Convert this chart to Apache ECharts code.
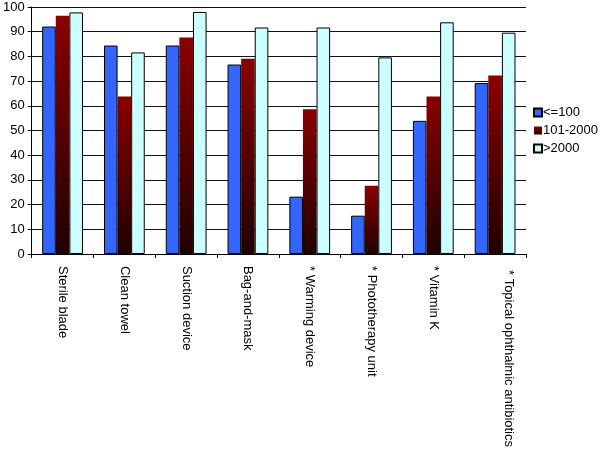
<!DOCTYPE html>
<html>
<head>
<meta charset="utf-8">
<script src="https://cdn.jsdelivr.net/npm/echarts@6/dist/echarts.min.js"></script>
<style>
  html, body { margin: 0; padding: 0; background: #fff; }
  #chart { width: 600px; height: 450px; }
</style>
</head>
<body>
<div id="chart"></div>
<script>
const categories = [
  'Sterile blade', 'Clean towel', 'Suction device', 'Bag-and-mask',
  '* Warming device', '* Phototherapy unit', '* Vitamin K', '* Topical ophthalmic antibiotics'
]
const seriesNames = ['<=100', '101-2000', '>2000']
const small = [92.1, 84.4, 84.4, 76.7, 23.2, 15.5, 53.9, 69.2]
const medium = [96.5, 63.8, 87.7, 79.0, 58.6, 27.6, 63.8, 72.3]
const large = [97.8, 81.6, 98.0, 91.7, 91.7, 79.6, 93.8, 89.6]
const yTicks = [0, 10, 20, 30, 40, 50, 60, 70, 80, 90, 100]

const chart = echarts.init(document.getElementById('chart'))

const redFill = new echarts.graphic.LinearGradient(0, 0, 0, 1, [
  { offset: 0, color: '#8a0000' },
  { offset: 1, color: '#200000' },
])

const last = categories[categories.length - 1]
// the last label sits a bit off-centre in the original
const xData = categories.map((name) =>
  name === last ? { value: name, textStyle: { padding: [0, 0, 0, 4] } } : name
)

chart.setOption({
  animation: false,
  textStyle: { fontFamily: 'Liberation Sans, Arial, sans-serif' },
  grid: { left: 29, right: 74, top: 7, bottom: 196, containLabel: false },
  legend: {
    orient: 'vertical',
    left: 533,
    top: 106,
    padding: 0,
    itemWidth: 8,
    itemHeight: 8,
    itemGap: 5,
    icon: 'rect',
    textStyle: { fontSize: 13, color: '#000', padding: [0, 0, 0, -4] },
    data: seriesNames,
  },
  xAxis: {
    type: 'category',
    data: xData,
    axisLine: { lineStyle: { color: '#000', width: 1 } },
    axisTick: { show: true, length: 4, inside: false, lineStyle: { color: '#000' } },
    axisLabel: {
      rotate: -90,
      fontSize: 13,
      color: '#000',
      margin: 12,
      interval: 0,
      formatter(val) {
        return val === last ? val + '\n\n' : val
      },
    },
    splitLine: { show: false },
  },
  yAxis: {
    type: 'value',
    min: yTicks[0],
    max: yTicks[yTicks.length - 1],
    interval: 10,
    axisLine: { show: true, lineStyle: { color: '#000', width: 1 } },
    axisTick: { show: true, length: 4, lineStyle: { color: '#000' } },
    axisLabel: { fontSize: 13, color: '#000', margin: 7 },
    splitLine: { show: true, lineStyle: { color: '#111', width: 1 } },
  },
  series: [
    {
      name: seriesNames[0],
      type: 'bar',
      data: small,
      barGap: '0%',
      barCategoryGap: '34%',
      itemStyle: { color: '#3366ff', borderColor: '#000', borderWidth: 1 },
    },
    {
      name: seriesNames[1],
      type: 'bar',
      data: medium,
      barGap: '0%',
      barCategoryGap: '34%',
      itemStyle: { color: redFill, borderColor: '#000', borderWidth: 0 },
    },
    {
      name: seriesNames[2],
      type: 'bar',
      data: large,
      barGap: '0%',
      barCategoryGap: '34%',
      itemStyle: { color: '#ccffff', borderColor: '#000', borderWidth: 1 },
    },
  ],
})
</script>
</body>
</html>
